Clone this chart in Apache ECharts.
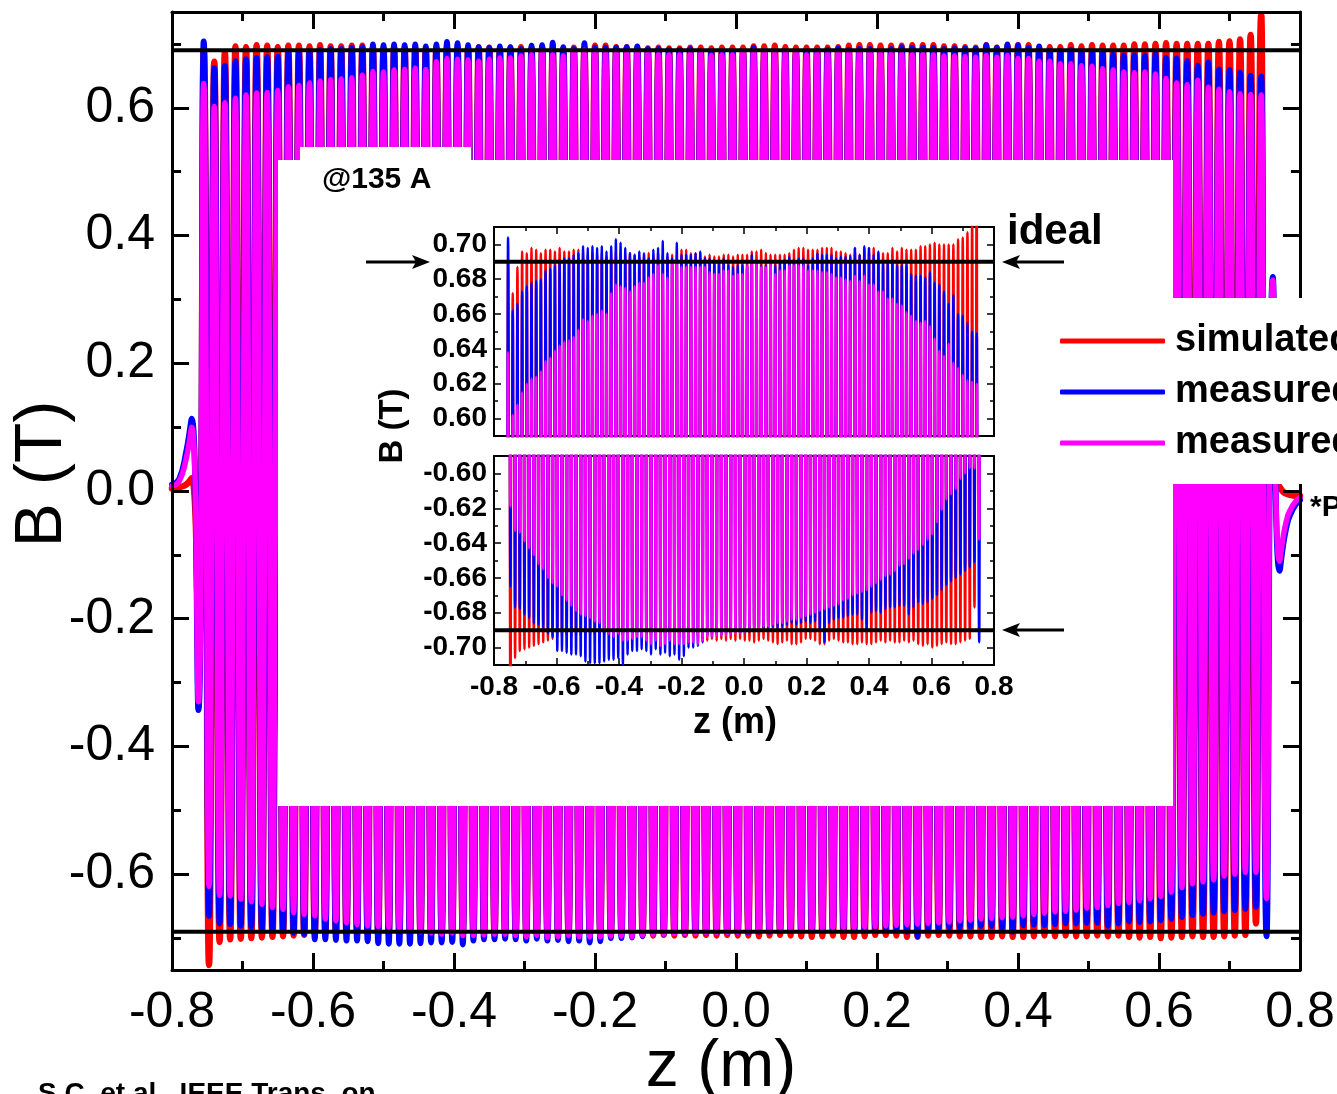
<!DOCTYPE html>
<html>
<head>
<meta charset="UTF-8">
<title>B(z) - simulated vs measured</title>
<script src="https://cdn.jsdelivr.net/npm/echarts@6/dist/echarts.min.js"></script>
<style>
  html, body { margin: 0; padding: 0; background: #fff; }
  #chart { width: 1337px; height: 1094px; }
</style>
</head>
<body>
<div id="chart"></div>
<script>
// pole layout (m): first positive peak, half period between peak and trough
var firstPeakZ = -0.755;
var halfPeriod = 0.0075;

// positive peaks, one per period (T)
var redPeaks = [
  0.690, 0.672, 0.687, 0.696, 0.695, 0.698, 0.697, 0.695, 0.697, 0.697,
  0.696, 0.698, 0.696, 0.696, 0.697, 0.697, 0.695, 0.694, 0.695, 0.694,
  0.695, 0.693, 0.695, 0.696, 0.695, 0.694, 0.695, 0.694, 0.693, 0.694,
  0.695, 0.694, 0.695, 0.694, 0.693, 0.694, 0.694, 0.697, 0.697, 0.695,
  0.695, 0.695, 0.693, 0.694, 0.693, 0.693, 0.694, 0.694, 0.693, 0.694,
  0.694, 0.694, 0.696, 0.696, 0.697, 0.695, 0.694, 0.694, 0.694, 0.694,
  0.695, 0.697, 0.698, 0.698, 0.697, 0.697, 0.697, 0.698, 0.698, 0.698,
  0.696, 0.696, 0.695, 0.694, 0.698, 0.694, 0.698, 0.698, 0.698, 0.695,
  0.695, 0.695, 0.698, 0.696, 0.698, 0.697, 0.697, 0.697, 0.699, 0.699,
  0.700, 0.701, 0.700, 0.700, 0.700, 0.700, 0.703, 0.704, 0.707, 0.714, 0.745
];
var bluePeaks = [
  0.704, 0.662, 0.666, 0.673, 0.676, 0.678, 0.679, 0.680, 0.685, 0.686,
  0.688, 0.691, 0.692, 0.692, 0.694, 0.695, 0.699, 0.698, 0.699, 0.698,
  0.699, 0.696, 0.699, 0.703, 0.701, 0.698, 0.695, 0.694, 0.696, 0.695,
  0.692, 0.697, 0.698, 0.702, 0.695, 0.692, 0.701, 0.694, 0.694, 0.694,
  0.695, 0.696, 0.692, 0.692, 0.691, 0.691, 0.692, 0.688, 0.687, 0.688,
  0.688, 0.688, 0.694, 0.689, 0.688, 0.688, 0.686, 0.688, 0.689, 0.691,
  0.693, 0.691, 0.692, 0.692, 0.688, 0.692, 0.695, 0.694, 0.694, 0.694,
  0.692, 0.693, 0.693, 0.693, 0.698, 0.694, 0.699, 0.698, 0.694, 0.696,
  0.689, 0.689, 0.691, 0.688, 0.688, 0.688, 0.683, 0.682, 0.682, 0.681,
  0.684, 0.678, 0.677, 0.673, 0.666, 0.671, 0.660, 0.659, 0.655, 0.650, 0.649
];
var magentaPeaks = [
  0.638, 0.602, 0.608, 0.615, 0.620, 0.623, 0.624, 0.627, 0.633, 0.635,
  0.639, 0.642, 0.644, 0.645, 0.647, 0.651, 0.657, 0.656, 0.659, 0.660,
  0.662, 0.660, 0.672, 0.677, 0.676, 0.675, 0.673, 0.676, 0.678, 0.678,
  0.681, 0.683, 0.688, 0.683, 0.681, 0.689, 0.690, 0.687, 0.687, 0.687,
  0.687, 0.687, 0.687, 0.684, 0.683, 0.683, 0.685, 0.685, 0.682, 0.683,
  0.683, 0.688, 0.689, 0.689, 0.687, 0.687, 0.688, 0.683, 0.685, 0.685,
  0.688, 0.688, 0.688, 0.688, 0.685, 0.685, 0.685, 0.684, 0.684, 0.683,
  0.681, 0.681, 0.680, 0.679, 0.682, 0.679, 0.682, 0.677, 0.677, 0.673,
  0.673, 0.669, 0.669, 0.666, 0.665, 0.661, 0.659, 0.656, 0.655, 0.656,
  0.653, 0.646, 0.639, 0.636, 0.643, 0.632, 0.629, 0.625, 0.622, 0.621, 0.620
];

// negative peaks, half a period after each positive one (T)
var redTroughs = [
  -0.742, -0.706, -0.702, -0.701, -0.700, -0.699, -0.698, -0.697, -0.696, -0.695,
  -0.694, -0.694, -0.693, -0.694, -0.693, -0.693, -0.694, -0.693, -0.693, -0.694,
  -0.693, -0.693, -0.694, -0.693, -0.693, -0.694, -0.693, -0.693, -0.694, -0.693,
  -0.693, -0.694, -0.693, -0.694, -0.693, -0.693, -0.694, -0.693, -0.694, -0.694,
  -0.694, -0.695, -0.696, -0.695, -0.696, -0.695, -0.696, -0.695, -0.696, -0.695,
  -0.696, -0.696, -0.697, -0.696, -0.695, -0.696, -0.697, -0.698, -0.697, -0.696,
  -0.698, -0.698, -0.697, -0.695, -0.695, -0.696, -0.698, -0.698, -0.696, -0.695,
  -0.696, -0.697, -0.697, -0.698, -0.698, -0.697, -0.698, -0.698, -0.697, -0.696,
  -0.697, -0.696, -0.697, -0.697, -0.696, -0.697, -0.696, -0.698, -0.699, -0.698,
  -0.700, -0.699, -0.698, -0.697, -0.698, -0.698, -0.697, -0.696, -0.695, -0.677
];
var blueTroughs = [
  -0.665, -0.677, -0.678, -0.681, -0.683, -0.686, -0.687, -0.689, -0.692, -0.694,
  -0.702, -0.702, -0.703, -0.704, -0.704, -0.705, -0.708, -0.709, -0.709, -0.709,
  -0.708, -0.707, -0.707, -0.706, -0.710, -0.704, -0.702, -0.702, -0.701, -0.702,
  -0.704, -0.701, -0.704, -0.703, -0.705, -0.704, -0.707, -0.705, -0.700, -0.700,
  -0.699, -0.697, -0.693, -0.694, -0.692, -0.693, -0.692, -0.692, -0.691, -0.692,
  -0.691, -0.691, -0.690, -0.690, -0.689, -0.689, -0.688, -0.689, -0.688, -0.687,
  -0.686, -0.687, -0.686, -0.685, -0.686, -0.685, -0.690, -0.697, -0.686, -0.684,
  -0.683, -0.683, -0.682, -0.681, -0.681, -0.684, -0.690, -0.680, -0.679, -0.680,
  -0.678, -0.677, -0.677, -0.676, -0.676, -0.681, -0.677, -0.674, -0.675, -0.674,
  -0.672, -0.670, -0.667, -0.664, -0.662, -0.660, -0.658, -0.656, -0.654, -0.651, -0.697
];
var magentaTroughs = [
  -0.619, -0.633, -0.634, -0.639, -0.643, -0.647, -0.652, -0.655, -0.660, -0.663,
  -0.665, -0.670, -0.673, -0.676, -0.679, -0.681, -0.682, -0.683, -0.685, -0.686,
  -0.690, -0.692, -0.694, -0.692, -0.696, -0.696, -0.695, -0.694, -0.694, -0.696,
  -0.698, -0.696, -0.699, -0.698, -0.696, -0.698, -0.698, -0.698, -0.697, -0.697,
  -0.698, -0.696, -0.694, -0.694, -0.693, -0.693, -0.693, -0.692, -0.692, -0.692,
  -0.691, -0.690, -0.689, -0.689, -0.688, -0.688, -0.687, -0.686, -0.686, -0.685,
  -0.684, -0.684, -0.683, -0.682, -0.681, -0.680, -0.679, -0.678, -0.677, -0.676,
  -0.675, -0.673, -0.672, -0.670, -0.669, -0.668, -0.667, -0.665, -0.663, -0.661,
  -0.659, -0.658, -0.656, -0.653, -0.652, -0.649, -0.646, -0.644, -0.641, -0.638,
  -0.635, -0.628, -0.621, -0.615, -0.612, -0.609, -0.603, -0.600, -0.597, -0.597, -0.638
];

// end fields [z, B]
var redLeadIn = [[-0.8, 0.004], [-0.79, 0.006], [-0.78, 0.010], [-0.772, 0.020], [-0.7625, -0.250]];
var blueLeadIn = [[-0.8, 0.010], [-0.79, 0.018], [-0.78, 0.060], [-0.772, 0.113], [-0.7625, -0.343]];
var magentaLeadIn = [[-0.8, 0.008], [-0.79, 0.015], [-0.78, 0.050], [-0.772, 0.100], [-0.7625, -0.330]];
var redLeadOut = [[0.7525, -0.012], [0.765, 0.012], [0.78, -0.004], [0.8, -0.008]];
var blueLeadOut = [[0.7615, 0.335], [0.771, -0.125], [0.78, -0.060], [0.79, -0.028], [0.8, -0.014]];
var magentaLeadOut = [[0.7615, 0.330], [0.771, -0.110], [0.78, -0.050], [0.79, -0.022], [0.8, -0.010]];

var idealField = 0.69;

// tick labels
var mainYTicks = [-0.6, -0.4, -0.2, 0, 0.2, 0.4, 0.6];
var mainYMinor = [-0.7, -0.5, -0.3, -0.1, 0.1, 0.3, 0.5, 0.7];
var insetTopTicks = [0.60, 0.62, 0.64, 0.66, 0.68, 0.70];
var insetTopMinor = [0.61, 0.63, 0.65, 0.67, 0.69];
var insetBotTicks = [-0.70, -0.68, -0.66, -0.64, -0.62, -0.60];
var insetBotMinor = [-0.69, -0.67, -0.65, -0.63, -0.61];

var FONT = 'Liberation Sans';

function wave(leadIn, peaks, troughs, leadOut) {
  var pts = leadIn.slice();
  for (var k = 0; k < peaks.length; k++) {
    pts.push([+(firstPeakZ + 2 * k * halfPeriod).toFixed(4), peaks[k]]);
    if (k < troughs.length) {
      pts.push([+(firstPeakZ + (2 * k + 1) * halfPeriod).toFixed(4), troughs[k]]);
    }
  }
  return pts.concat(leadOut);
}

var redData = wave(redLeadIn, redPeaks, redTroughs, redLeadOut);
var blueData = wave(blueLeadIn, bluePeaks, blueTroughs, blueLeadOut);
var magentaData = wave(magentaLeadIn, magentaPeaks, magentaTroughs, magentaLeadOut);

function fmt(d) {
  return function (v) { return (Math.abs(v) < 1e-9 ? 0 : v).toFixed(d); };
}

function xAxis(grid, pos, o) {
  return {
    type: 'value', gridIndex: grid, position: pos, min: -0.8, max: 0.8, interval: 0.2,
    z: o.z,
    axisLine: { onZero: false, lineStyle: { color: '#000', width: o.lw } },
    axisTick: { show: o.ticks, inside: true, length: o.major, lineStyle: { color: '#000', width: o.tw } },
    minorTick: { show: o.ticks, splitNumber: 2, length: o.minor, lineStyle: { color: '#000', width: o.tw } },
    splitLine: { show: false }, minorSplitLine: { show: false },
    axisLabel: {
      show: !!o.label, margin: o.margin || 8, fontSize: o.fs || 12, fontFamily: FONT,
      fontWeight: o.bold ? 'bold' : 'normal', color: '#000', formatter: fmt(1)
    }
  };
}

function yAxis(grid, pos, min, max, ticks, o) {
  return {
    type: 'value', gridIndex: grid, position: pos, min: min, max: max,
    z: o.z,
    axisLine: { show: o.line, onZero: false, lineStyle: { color: '#000', width: o.lw } },
    axisTick: { inside: true, length: o.len, customValues: ticks, lineStyle: { color: '#000', width: o.tw } },
    minorTick: { show: false },
    splitLine: { show: false },
    axisLabel: {
      show: !!o.label, customValues: ticks, margin: o.margin || 8, fontSize: o.fs || 12,
      fontFamily: FONT, fontWeight: o.bold ? 'bold' : 'normal', color: '#000', formatter: fmt(o.dec || 1)
    }
  };
}

function line(name, color, data, lw, xi, yi, z) {
  return {
    type: 'line', name: name, data: data, xAxisIndex: xi, yAxisIndex: yi, z: z,
    smooth: 0.5, symbol: 'none', clip: true, silent: true,
    lineStyle: { color: color, width: lw, cap: 'round', join: 'round' },
    itemStyle: { color: color }, emphasis: { disabled: true }
  };
}

function ideal(value, lw, xi, yi, z) {
  return {
    type: 'line', name: 'ideal', data: [[-0.8, value], [0.8, value]], xAxisIndex: xi, yAxisIndex: yi, z: z,
    symbol: 'none', silent: true, lineStyle: { color: '#000', width: lw }, emphasis: { disabled: true }
  };
}

function arrow(x1, x2, y) {
  var dir = x2 > x1 ? 1 : -1;
  return {
    type: 'group', z: 40, children: [
      { type: 'line', z: 40, shape: { x1: x1, y1: y, x2: x2 - dir * 10, y2: y }, style: { stroke: '#000', lineWidth: 3 } },
      { type: 'polygon', z: 40, shape: { points: [[x2, y], [x2 - dir * 18, y - 7], [x2 - dir * 14, y], [x2 - dir * 18, y + 7]] }, style: { fill: '#000' } }
    ]
  };
}

function label(text, x, y, font, extra) {
  return Object.assign({
    type: 'text', z: 40, x: x, y: y,
    style: { text: text, font: font, fill: '#000', align: 'left', verticalAlign: 'middle' }
  }, extra || {});
}

function centred(text, x, y, font, rot) {
  return {
    type: 'text', z: 40, x: x, y: y, rotation: rot || 0,
    style: { text: text, font: font, fill: '#000', align: 'center', verticalAlign: 'middle' }
  };
}

var main = { z: 5, lw: 3, tw: 3, major: 17, minor: 9 };
var ins = { z: 20, lw: 2, tw: 1.5, major: 7, minor: 4 };

var option = {
  animation: false,
  backgroundColor: '#fff',
  textStyle: { fontFamily: FONT },
  grid: [
    { left: 172, right: 37, top: 12, bottom: 124, containLabel: false, outerBoundsMode: 'none' },
    { left: 494, top: 227, width: 500, height: 209, containLabel: false, outerBoundsMode: 'none' },
    { left: 494, top: 456, width: 500, height: 209, containLabel: false, outerBoundsMode: 'none' }
  ],
  xAxis: [
    xAxis(0, 'bottom', Object.assign({}, main, { ticks: true, label: true, fs: 50, margin: 18 })),
    xAxis(0, 'top', Object.assign({}, main, { ticks: true })),
    xAxis(1, 'top', Object.assign({}, ins, { ticks: true })),
    xAxis(1, 'bottom', Object.assign({}, ins, { ticks: false })),
    xAxis(2, 'bottom', Object.assign({}, ins, { ticks: true, label: true, fs: 28, bold: true, margin: 8 })),
    xAxis(2, 'top', Object.assign({}, ins, { ticks: false }))
  ],
  yAxis: [
    yAxis(0, 'left', -0.75, 0.75, mainYTicks, { z: 5, line: true, lw: 3, tw: 3, len: 17, label: true, fs: 50, margin: 17 }),
    yAxis(0, 'left', -0.75, 0.75, mainYMinor, { z: 5, line: false, lw: 3, tw: 3, len: 9 }),
    yAxis(0, 'right', -0.75, 0.75, mainYTicks, { z: 5, line: true, lw: 3, tw: 3, len: 17 }),
    yAxis(0, 'right', -0.75, 0.75, mainYMinor, { z: 5, line: false, lw: 3, tw: 3, len: 9 }),
    yAxis(1, 'left', 0.59, 0.71, insetTopTicks, { z: 20, line: true, lw: 2, tw: 1.5, len: 7, label: true, fs: 28, bold: true, margin: 7, dec: 2 }),
    yAxis(1, 'left', 0.59, 0.71, insetTopMinor, { z: 20, line: false, lw: 2, tw: 1.5, len: 4 }),
    yAxis(1, 'right', 0.59, 0.71, insetTopTicks, { z: 20, line: true, lw: 2, tw: 1.5, len: 7 }),
    yAxis(1, 'right', 0.59, 0.71, insetTopMinor, { z: 20, line: false, lw: 2, tw: 1.5, len: 4 }),
    yAxis(2, 'left', -0.71, -0.59, insetBotTicks, { z: 20, line: true, lw: 2, tw: 1.5, len: 7, label: true, fs: 28, bold: true, margin: 7, dec: 2 }),
    yAxis(2, 'left', -0.71, -0.59, insetBotMinor, { z: 20, line: false, lw: 2, tw: 1.5, len: 4 }),
    yAxis(2, 'right', -0.71, -0.59, insetBotTicks, { z: 20, line: true, lw: 2, tw: 1.5, len: 7 }),
    yAxis(2, 'right', -0.71, -0.59, insetBotMinor, { z: 20, line: false, lw: 2, tw: 1.5, len: 4 })
  ],
  legend: {
    orient: 'vertical', left: 1048, top: 298, padding: [24, 12, 22, 12],
    itemGap: 13, itemWidth: 105, itemHeight: 5, icon: 'roundRect',
    backgroundColor: '#fff', z: 30, selectedMode: false,
    textStyle: { fontSize: 38, fontWeight: 'bold', fontFamily: FONT, color: '#000', lineHeight: 36, padding: [0, 0, 0, 5] },
    data: ['simulated', 'measured', 'measured*']
  },
  graphic: [
    { type: 'rect', z: 10, shape: { x: 278, y: 160, width: 895, height: 646 }, style: { fill: '#fff' } },
    { type: 'rect', z: 10, shape: { x: 300, y: 147, width: 171, height: 14 }, style: { fill: '#fff' } },
    centred('B (T)', 43, 474, '66px "Liberation Sans"', Math.PI / 2),
    centred('z (m)', 721, 1068, '66px "Liberation Sans"'),
    label('@135 A', 322, 180, 'bold 30px "Liberation Sans"'),
    label('ideal', 1007, 232, 'bold 42px "Liberation Sans"'),
    label('*P', 1310, 508, 'bold 30px "Liberation Sans"'),
    label('S.C. et al., IEEE Trans. on', 38, 1094, 'bold 28px "Liberation Sans"'),
    centred('B (T)', 393, 426, 'bold 33px "Liberation Sans"', Math.PI / 2),
    centred('z (m)', 735, 723, 'bold 36px "Liberation Sans"'),
    arrow(366, 430, 262),
    arrow(1064, 1002, 262),
    arrow(1064, 1002, 630)
  ],
  series: [
    line('simulated', '#ff0000', redData, 6.5, 0, 0, 2),
    line('measured', '#0000ff', blueData, 6, 0, 0, 2),
    line('measured*', '#ff00ff', magentaData, 5.5, 0, 0, 2),
    ideal(idealField, 4, 0, 0, 3),
    ideal(-idealField, 4, 0, 0, 3),
    line('simulated', '#ff0000', redData, 2.5, 2, 4, 20),
    line('measured', '#0000ff', blueData, 2.5, 2, 4, 20),
    line('measured*', '#ff00ff', magentaData, 2.5, 2, 4, 20),
    ideal(idealField, 4, 2, 4, 21),
    line('simulated', '#ff0000', redData, 2.5, 4, 8, 20),
    line('measured', '#0000ff', blueData, 2.5, 4, 8, 20),
    line('measured*', '#ff00ff', magentaData, 2.5, 4, 8, 20),
    ideal(-idealField, 4, 4, 8, 21)
  ]
};

var chart = echarts.init(document.getElementById('chart'));
chart.setOption(option);
</script>
</body>
</html>
